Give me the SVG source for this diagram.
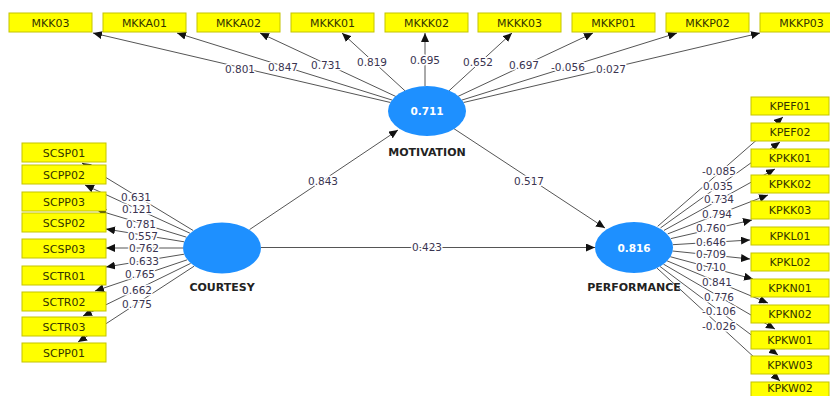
<svg xmlns="http://www.w3.org/2000/svg" width="830" height="396" viewBox="0 0 830 396">
<style>
.bx{fill:#ffff00;stroke:#c4c400;stroke-width:1}
.bt{font-family:"DejaVu Sans",sans-serif;font-size:11px;fill:#333300;text-anchor:middle}
.ln{stroke:#555;stroke-width:1;fill:none;marker-end:url(#ah)}
.lb{font-family:"DejaVu Sans",sans-serif;font-size:10.5px;fill:#3a3450;text-anchor:middle;paint-order:stroke;stroke:#fff;stroke-width:3px;stroke-linejoin:round}
.lv{fill:#1e90ff}
.lvt{font-family:"DejaVu Sans",sans-serif;font-size:10.5px;font-weight:bold;fill:#fff;text-anchor:middle}
.nm{font-family:"DejaVu Sans",sans-serif;font-size:11px;font-weight:bold;fill:#222;text-anchor:middle}
</style>
<defs>
<marker id="ah" markerWidth="10" markerHeight="8" refX="9" refY="4" orient="auto" markerUnits="userSpaceOnUse"><path d="M0,0 L9,4 L0,8 z" fill="#111"/></marker>
</defs>
<rect width="830" height="396" fill="#fff"/>
<g id="connectors">
<line class="ln" x1="390.5" y1="102.5" x2="93" y2="33"/>
<line class="ln" x1="392.2" y1="100.1" x2="177" y2="33"/>
<line class="ln" x1="395.9" y1="96.5" x2="260" y2="33"/>
<line class="ln" x1="405.3" y1="91.1" x2="342" y2="33"/>
<line class="ln" x1="425" y1="86" x2="425" y2="33"/>
<line class="ln" x1="448.7" y1="91.1" x2="512" y2="33"/>
<line class="ln" x1="458" y1="96.4" x2="593" y2="33"/>
<line class="ln" x1="461.8" y1="100.1" x2="677" y2="33"/>
<line class="ln" x1="463.5" y1="102.5" x2="760" y2="33"/>
<line class="ln" x1="193.2" y1="230.5" x2="82" y2="163"/>
<line class="ln" x1="189.9" y1="233.2" x2="85" y2="185"/>
<line class="ln" x1="186.5" y1="237.2" x2="97" y2="210"/>
<line class="ln" x1="184.1" y1="241.8" x2="106" y2="229"/>
<line class="ln" x1="183" y1="248" x2="106" y2="248"/>
<line class="ln" x1="184.1" y1="254.2" x2="106" y2="267"/>
<line class="ln" x1="187.2" y1="259.8" x2="95" y2="291"/>
<line class="ln" x1="190.6" y1="263.4" x2="83" y2="316"/>
<line class="ln" x1="194.1" y1="266.2" x2="78" y2="342"/>
<line class="ln" x1="657.7" y1="226.3" x2="783" y2="117"/>
<line class="ln" x1="660.5" y1="227.9" x2="780" y2="142"/>
<line class="ln" x1="664" y1="230.4" x2="775" y2="169"/>
<line class="ln" x1="667.7" y1="233.9" x2="768" y2="195"/>
<line class="ln" x1="670.9" y1="238.6" x2="752" y2="220"/>
<line class="ln" x1="672.8" y1="244.7" x2="750" y2="240"/>
<line class="ln" x1="672.5" y1="251" x2="750" y2="259"/>
<line class="ln" x1="670.2" y1="256.7" x2="753" y2="279"/>
<line class="ln" x1="667" y1="260.8" x2="768" y2="303"/>
<line class="ln" x1="663.4" y1="264.1" x2="775" y2="329"/>
<line class="ln" x1="659.9" y1="266.4" x2="778" y2="355"/>
<line class="ln" x1="656.9" y1="268" x2="780" y2="381"/>
<line class="ln" x1="249.5" y1="229.6" x2="398" y2="130"/>
<line class="ln" x1="453.7" y1="128.5" x2="605" y2="228"/>
<line class="ln" x1="261" y1="247.5" x2="595" y2="247.5"/>
<text class="lb" x="240" y="73">0.801</text>
<text class="lb" x="283" y="71">0.847</text>
<text class="lb" x="326" y="69">0.731</text>
<text class="lb" x="372" y="66">0.819</text>
<text class="lb" x="425" y="64">0.695</text>
<text class="lb" x="478" y="66">0.652</text>
<text class="lb" x="524" y="69">0.697</text>
<text class="lb" x="568" y="71">-0.056</text>
<text class="lb" x="611" y="73">0.027</text>
<text class="lb" x="136" y="201">0.631</text>
<text class="lb" x="137" y="213">0.121</text>
<text class="lb" x="141" y="228">0.781</text>
<text class="lb" x="143" y="240">0.557</text>
<text class="lb" x="144" y="252">0.762</text>
<text class="lb" x="144" y="265">0.633</text>
<text class="lb" x="140" y="278">0.765</text>
<text class="lb" x="137" y="294">0.662</text>
<text class="lb" x="137" y="308">0.775</text>
<text class="lb" x="719" y="175">-0.085</text>
<text class="lb" x="718" y="190">0.035</text>
<text class="lb" x="719" y="203">0.734</text>
<text class="lb" x="717" y="218">0.794</text>
<text class="lb" x="711" y="232">0.760</text>
<text class="lb" x="711" y="246">0.646</text>
<text class="lb" x="711" y="258">0.709</text>
<text class="lb" x="711" y="271">0.710</text>
<text class="lb" x="717" y="286">0.841</text>
<text class="lb" x="719" y="301">0.776</text>
<text class="lb" x="719" y="315">-0.106</text>
<text class="lb" x="719" y="330">-0.026</text>
<text class="lb" x="323" y="185">0.843</text>
<text class="lb" x="529" y="185">0.517</text>
<text class="lb" x="427" y="251">0.423</text>
</g>
<g id="MOTIVATION"><ellipse class="lv" cx="427" cy="111" rx="39" ry="25"/><text class="lvt" x="427" y="115">0.711</text><text class="nm" x="427" y="156">MOTIVATION</text></g>
<g id="COURTESY"><ellipse class="lv" cx="222" cy="248" rx="39" ry="25.5"/><text class="nm" x="222" y="291">COURTESY</text></g>
<g id="PERFORMANCE"><ellipse class="lv" cx="634" cy="247.5" rx="39" ry="25.5"/><text class="lvt" x="634" y="251.5">0.816</text><text class="nm" x="634" y="291">PERFORMANCE</text></g>
<g id="MKK03"><rect class="bx" x="9" y="13" width="83" height="19"/><text class="bt" x="50.5" y="26.5">MKK03</text></g>
<g id="MKKA01"><rect class="bx" x="103" y="13" width="83" height="19"/><text class="bt" x="144.5" y="26.5">MKKA01</text></g>
<g id="MKKA02"><rect class="bx" x="197" y="13" width="83" height="19"/><text class="bt" x="238.5" y="26.5">MKKA02</text></g>
<g id="MKKK01"><rect class="bx" x="291" y="13" width="83" height="19"/><text class="bt" x="332.5" y="26.5">MKKK01</text></g>
<g id="MKKK02"><rect class="bx" x="385" y="13" width="83" height="19"/><text class="bt" x="426.5" y="26.5">MKKK02</text></g>
<g id="MKKK03"><rect class="bx" x="478" y="13" width="83" height="19"/><text class="bt" x="519.5" y="26.5">MKKK03</text></g>
<g id="MKKP01"><rect class="bx" x="572" y="13" width="83" height="19"/><text class="bt" x="613.5" y="26.5">MKKP01</text></g>
<g id="MKKP02"><rect class="bx" x="666" y="13" width="83" height="19"/><text class="bt" x="707.5" y="26.5">MKKP02</text></g>
<g id="MKKP03"><rect class="bx" x="760" y="13" width="83" height="19"/><text class="bt" x="801.5" y="26.5">MKKP03</text></g>
<g id="SCSP01"><rect class="bx" x="22" y="143" width="84" height="19"/><text class="bt" x="64" y="156.5">SCSP01</text></g>
<g id="SCPP02"><rect class="bx" x="22" y="165" width="84" height="19"/><text class="bt" x="64" y="178.5">SCPP02</text></g>
<g id="SCPP03"><rect class="bx" x="22" y="192" width="84" height="19"/><text class="bt" x="64" y="205.5">SCPP03</text></g>
<g id="SCSP02"><rect class="bx" x="22" y="213" width="84" height="19"/><text class="bt" x="64" y="226.5">SCSP02</text></g>
<g id="SCSP03"><rect class="bx" x="22" y="239" width="84" height="19"/><text class="bt" x="64" y="252.5">SCSP03</text></g>
<g id="SCTR01"><rect class="bx" x="22" y="266" width="84" height="19"/><text class="bt" x="64" y="279.5">SCTR01</text></g>
<g id="SCTR02"><rect class="bx" x="22" y="292" width="84" height="19"/><text class="bt" x="64" y="305.5">SCTR02</text></g>
<g id="SCTR03"><rect class="bx" x="22" y="317" width="84" height="19"/><text class="bt" x="64" y="330.5">SCTR03</text></g>
<g id="SCPP01"><rect class="bx" x="22" y="343" width="84" height="19"/><text class="bt" x="64" y="356.5">SCPP01</text></g>
<g id="KPEF01"><rect class="bx" x="751" y="97" width="78" height="18"/><text class="bt" x="790" y="110">KPEF01</text></g>
<g id="KPEF02"><rect class="bx" x="751" y="123" width="78" height="18"/><text class="bt" x="790" y="136">KPEF02</text></g>
<g id="KPKK01"><rect class="bx" x="751" y="149" width="78" height="18"/><text class="bt" x="790" y="162">KPKK01</text></g>
<g id="KPKK02"><rect class="bx" x="751" y="175" width="78" height="18"/><text class="bt" x="790" y="188">KPKK02</text></g>
<g id="KPKK03"><rect class="bx" x="751" y="201" width="78" height="18"/><text class="bt" x="790" y="214">KPKK03</text></g>
<g id="KPKL01"><rect class="bx" x="751" y="227" width="78" height="18"/><text class="bt" x="790" y="240">KPKL01</text></g>
<g id="KPKL02"><rect class="bx" x="751" y="253" width="78" height="18"/><text class="bt" x="790" y="266">KPKL02</text></g>
<g id="KPKN01"><rect class="bx" x="751" y="279" width="78" height="18"/><text class="bt" x="790" y="292">KPKN01</text></g>
<g id="KPKN02"><rect class="bx" x="751" y="305" width="78" height="18"/><text class="bt" x="790" y="318">KPKN02</text></g>
<g id="KPKW01"><rect class="bx" x="751" y="331" width="78" height="18"/><text class="bt" x="790" y="344">KPKW01</text></g>
<g id="KPKW03"><rect class="bx" x="751" y="356" width="78" height="18"/><text class="bt" x="790" y="369">KPKW03</text></g>
<g id="KPKW02"><rect class="bx" x="751" y="382" width="78" height="18"/><text class="bt" x="790" y="392">KPKW02</text></g>
</svg>
